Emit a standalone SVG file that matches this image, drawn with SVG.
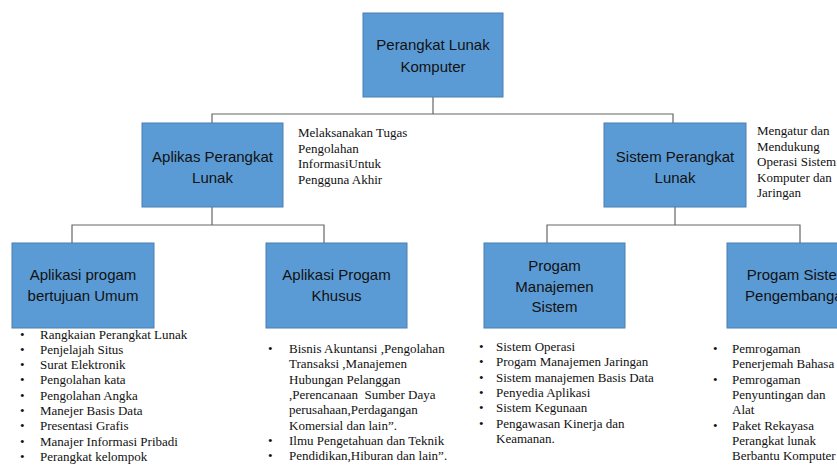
<svg xmlns="http://www.w3.org/2000/svg" width="837" height="467" viewBox="0 0 837 467">
<style>
.box{fill:#5B9BD5;stroke:#4A7EB0;stroke-width:1}
.bt{font-family:"Liberation Sans",Arial,sans-serif;font-size:15px;fill:#111;text-anchor:middle}
.tx{font-family:"Liberation Serif","Times New Roman",serif;font-size:13px;fill:#111}
.ln{fill:none;stroke:#666;stroke-width:1.2}
</style>
<rect width="837" height="467" fill="#fff"/>
<g id="connectors">
<path class="ln" d="M433 97V114M212 123V114H673V123"/>
<path class="ln" d="M212 207V225M72 243V225H324V243"/>
<path class="ln" d="M675 207V225M547 243V225H800V243"/>
</g>
<g id="n-root">
<rect class="box" x="363" y="13" width="140" height="84"/>
<text class="bt" x="433" y="50">Perangkat Lunak</text>
<text class="bt" x="433" y="72">Komputer</text>
</g>
<g id="n-aplikasi">
<rect class="box" x="142" y="123" width="141" height="84"/>
<text class="bt" x="212.5" y="162">Aplikas Perangkat</text>
<text class="bt" x="212.5" y="183">Lunak</text>
<text class="tx" x="298" y="137">Melaksanakan Tugas</text>
<text class="tx" x="298" y="152.5">Pengolahan</text>
<text class="tx" x="298" y="168">InformasiUntuk</text>
<text class="tx" x="298" y="183.5">Pengguna Akhir</text>
</g>
<g id="n-sistem">
<rect class="box" x="604" y="123" width="142" height="84"/>
<text class="bt" x="675" y="162">Sistem Perangkat</text>
<text class="bt" x="675" y="183">Lunak</text>
<text class="tx" x="757" y="135">Mengatur dan</text>
<text class="tx" x="757" y="150.5">Mendukung</text>
<text class="tx" x="757" y="166">Operasi Sistem</text>
<text class="tx" x="757" y="181.5">Komputer dan</text>
<text class="tx" x="757" y="197">Jaringan</text>
</g>
<g id="n-umum">
<rect class="box" x="12" y="243" width="142" height="85"/>
<text class="bt" x="83" y="280">Aplikasi progam</text>
<text class="bt" x="83" y="301">bertujuan Umum</text>
<g class="tx">
<text x="20" y="338.5">•</text><text x="40" y="338.5">Rangkaian Perangkat Lunak</text>
<text x="20" y="353.8">•</text><text x="40" y="353.8">Penjelajah Situs</text>
<text x="20" y="369.1">•</text><text x="40" y="369.1">Surat Elektronik</text>
<text x="20" y="384.4">•</text><text x="40" y="384.4">Pengolahan kata</text>
<text x="20" y="399.7">•</text><text x="40" y="399.7">Pengolahan Angka</text>
<text x="20" y="415">•</text><text x="40" y="415">Manejer Basis Data</text>
<text x="20" y="430.3">•</text><text x="40" y="430.3">Presentasi Grafis</text>
<text x="20" y="445.6">•</text><text x="40" y="445.6">Manajer Informasi Pribadi</text>
<text x="20" y="460.9">•</text><text x="40" y="460.9">Perangkat kelompok</text>
</g>
</g>
<g id="n-khusus">
<rect class="box" x="266" y="243" width="141" height="85"/>
<text class="bt" x="336.5" y="280">Aplikasi Progam</text>
<text class="bt" x="336.5" y="301">Khusus</text>
<g class="tx">
<text x="268" y="353">•</text><text x="289" y="353">Bisnis Akuntansi ,Pengolahan</text>
<text x="289" y="368.3">Transaksi ,Manajemen</text>
<text x="289" y="383.6">Hubungan Pelanggan</text>
<text x="289" y="398.9" xml:space="preserve">,Perencanaan  Sumber Daya</text>
<text x="289" y="414.2">perusahaan,Perdagangan</text>
<text x="289" y="429.5">Komersial dan lain”.</text>
<text x="268" y="444.8">•</text><text x="289" y="444.8">Ilmu Pengetahuan dan Teknik</text>
<text x="268" y="460.1">•</text><text x="289" y="460.1">Pendidikan,Hiburan dan lain”.</text>
</g>
</g>
<g id="n-manajemen">
<rect class="box" x="484" y="243" width="141" height="85"/>
<text class="bt" x="554.5" y="271">Progam</text>
<text class="bt" x="554.5" y="291.5">Manajemen</text>
<text class="bt" x="554.5" y="312">Sistem</text>
<g class="tx">
<text x="479" y="351">•</text><text x="496" y="351">Sistem Operasi</text>
<text x="479" y="366.3">•</text><text x="496" y="366.3">Progam Manajemen Jaringan</text>
<text x="479" y="381.6">•</text><text x="496" y="381.6">Sistem manajemen Basis Data</text>
<text x="479" y="396.9">•</text><text x="496" y="396.9">Penyedia Aplikasi</text>
<text x="479" y="412.2">•</text><text x="496" y="412.2">Sistem Kegunaan</text>
<text x="479" y="427.5">•</text><text x="496" y="427.5">Pengawasan Kinerja dan</text>
<text x="496" y="442.8">Keamanan.</text>
</g>
</g>
<g id="n-pengembangan">
<rect class="box" x="727" y="243" width="142" height="85"/>
<text class="bt" x="798" y="280">Progam Sistem</text>
<text class="bt" x="798" y="301">Pengembangan</text>
<g class="tx">
<text x="713" y="353">•</text><text x="732" y="353">Pemrogaman</text>
<text x="732" y="368.3">Penerjemah Bahasa</text>
<text x="713" y="383.6">•</text><text x="732" y="383.6">Pemrogaman</text>
<text x="732" y="398.9">Penyuntingan dan</text>
<text x="732" y="414.2">Alat</text>
<text x="713" y="429.5">•</text><text x="732" y="429.5">Paket Rekayasa</text>
<text x="732" y="444.8">Perangkat lunak</text>
<text x="732" y="460.1">Berbantu Komputer</text>
</g>
</g>
</svg>
